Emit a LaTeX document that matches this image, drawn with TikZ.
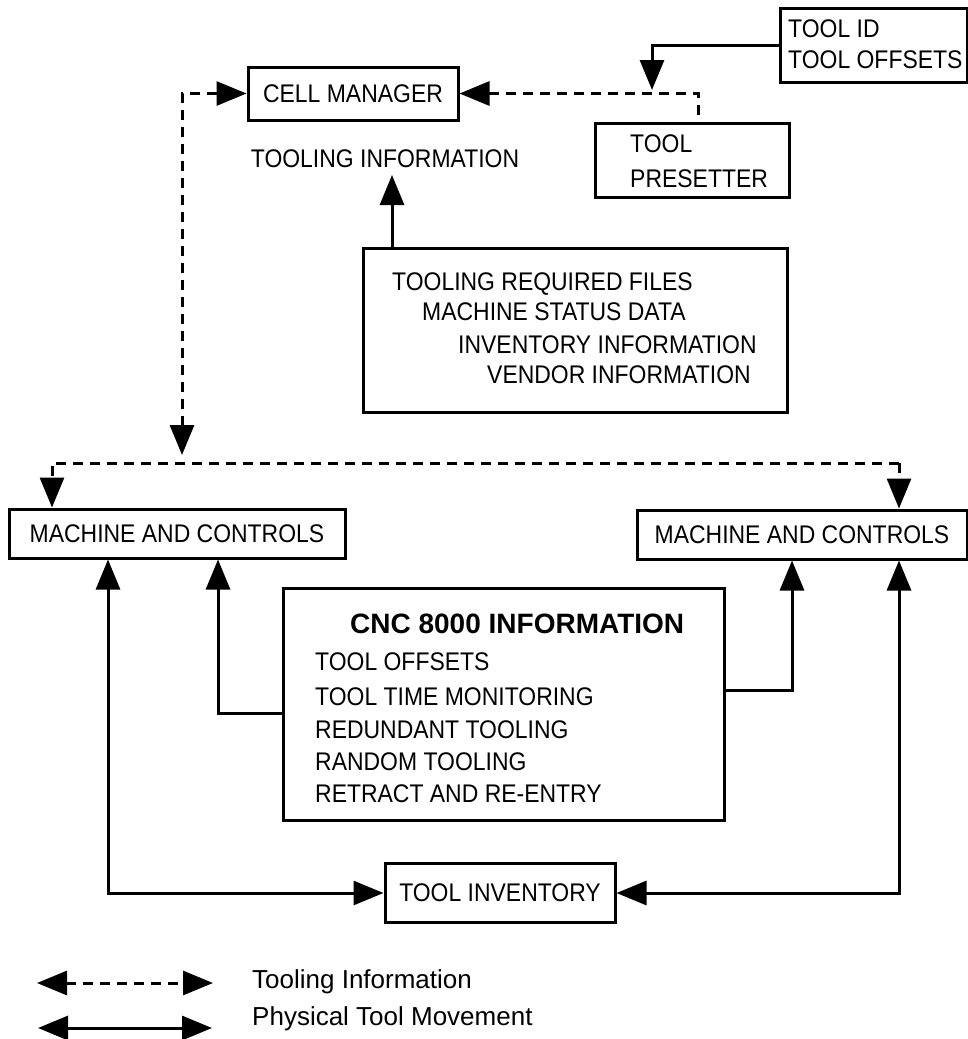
\documentclass[tikz,border=0pt]{standalone}
\usepackage{fontspec}
\setmainfont{Liberation Sans}[FakeStretch=0.9]
\newfontfamily\plainsans{Liberation Sans}
\usetikzlibrary{arrows.meta}

\newcommand\boxlbl{\fontsize{25.5}{30}\selectfont}
\newcommand\cnctitle{\plainsans\bfseries\fontsize{28}{32}\selectfont}
\newcommand\legendlbl{\plainsans\fontsize{26}{30}\selectfont}

\begin{document}
\begin{tikzpicture}[x=1pt,y=-1pt,
  >={Triangle[length=30pt,width=24pt]},
  box/.style={draw, line width=3pt, inner sep=0pt, font=\boxlbl},
  txt/.style={anchor=base west, inner sep=0pt, font=\boxlbl},
  info/.style={line width=3pt, dash pattern=on 10pt off 7pt},
  move/.style={line width=3pt},
]
\useasboundingbox (0,0) rectangle (968,1039);

% boxes
\node[box, minimum width=187, minimum height=74] (tid) at (873.5,45) {};
\node[txt] (tidA) at (788,37) {TOOL ID};
\node[txt] (tidB) at (788,68) {TOOL OFFSETS};

\node[box, minimum width=210, minimum height=53] (cm) at (353,93.5) {CELL MANAGER};

\node[box, minimum width=194, minimum height=74] (tp) at (692,160) {};
\node[txt] (tpA) at (630,152) {TOOL};
\node[txt] (tpB) at (630,187) {PRESETTER};

\node[anchor=base, inner sep=0pt, font=\boxlbl] (ti) at (385,167) {TOOLING INFORMATION};

\node[box, minimum width=424, minimum height=164] (trf) at (575,330) {};
\node[txt] (trfA) at (392,290) {TOOLING REQUIRED FILES};
\node[txt] (trfB) at (422,320) {MACHINE STATUS DATA};
\node[txt] (trfC) at (458,353) {INVENTORY INFORMATION};
\node[txt] (trfD) at (487,383) {VENDOR INFORMATION};

\node[box, minimum width=336, minimum height=49] (m1) at (177,533.5) {MACHINE AND CONTROLS};
\node[box, minimum width=330, minimum height=49] (m2) at (802,534.5) {MACHINE AND CONTROLS};

\node[box, minimum width=441, minimum height=232] (cnc) at (503.5,704) {};
\node[anchor=base west, inner sep=0pt, font=\cnctitle] (cncT) at (350,633) {CNC 8000 INFORMATION};
\node[txt] (cncA) at (315,670) {TOOL OFFSETS};
\node[txt] (cncB) at (315,705) {TOOL TIME MONITORING};
\node[txt] (cncC) at (315,738) {REDUNDANT TOOLING};
\node[txt] (cncD) at (315,770) {RANDOM TOOLING};
\node[txt] (cncE) at (315,802) {RETRACT AND RE-ENTRY};

\node[box, minimum width=230, minimum height=59] (inv) at (500,893) {TOOL INVENTORY};

% junction points
\coordinate (presetIn) at (652,90);
\coordinate (tpIn) at (698,123);
\coordinate (busDrop) at (182,455);
\coordinate (tiTip) at (392,175);
\coordinate (busL) at (52,463);
\coordinate (busR) at (899,463);
\coordinate (xA) at (218,0);
\coordinate (xB) at (792,0);
\coordinate (xL) at (108,0);
\coordinate (cncL) at (283,713);
\coordinate (cncR) at (724,690);

% tooling information (dashed)
\draw[info,<->] (busDrop) |- (cm.west);
\draw[info,<-] (cm.east) -| (tpIn);
\draw[info,->] (busR) -- (busL) -- (busL |- m1.north);
\draw[info,->] (busR) -- (busR |- m2.north);

% physical flows (solid)
\draw[move,->] (tid.west) -| (presetIn);
\draw[move,->] (trf.north -| tiTip) -- (tiTip);
\draw[move,<->] (m1.south -| xL) |- (inv.west);
\draw[move,->] (cncL) -| (m1.south -| xA);
\draw[move,->] (cncR) -| (m2.south -| xB);
\draw[move,<->] (m2.south -| busR) |- (inv.east);

% legend
\coordinate (legA1) at (37,983);
\coordinate (legA2) at (213,983);
\coordinate (legB1) at (38,1028);
\coordinate (legB2) at (212,1028);
\draw[info,<->] (legA1) -- (legA2);
\draw[move,<->] (legB1) -- (legB2);
\node[anchor=base west, inner sep=0pt, font=\legendlbl] (legTa) at (252,988) {Tooling Information};
\node[anchor=base west, inner sep=0pt, font=\legendlbl] (legTb) at (252,1025) {Physical Tool Movement};
\end{tikzpicture}
\end{document}
